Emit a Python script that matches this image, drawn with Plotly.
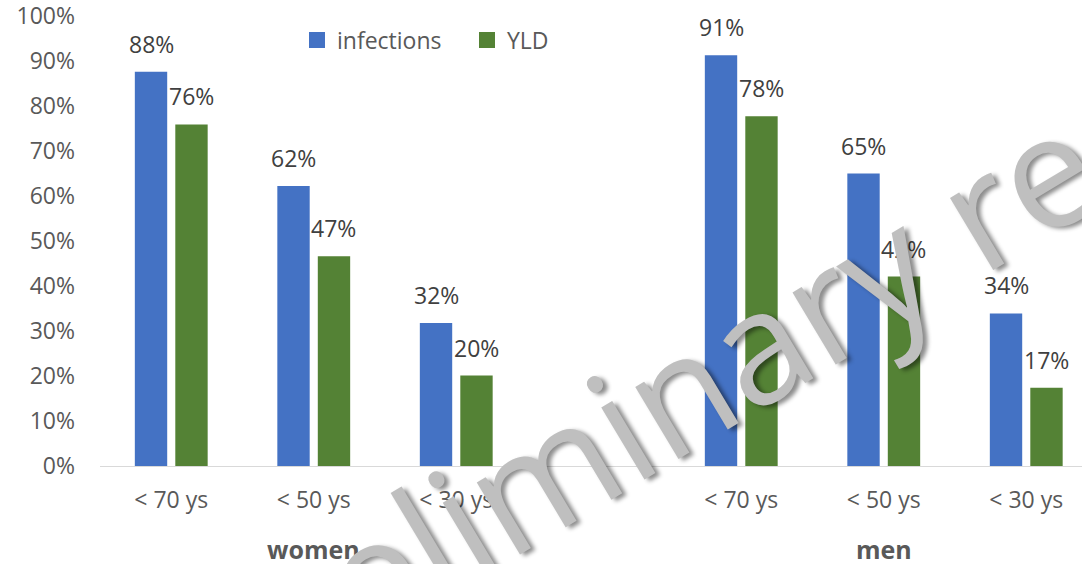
import plotly.graph_objects as go

# ---------------- data ----------------
groups = ["women", "men"]
age_labels = ["< 70 ys", "< 50 ys", "< 30 ys"]
series_names = ["infections", "YLD"]
infections_women = [87.6, 62.2, 31.8]
yld_women = [75.9, 46.6, 20.1]
infections_men = [91.3, 65.0, 33.9]
yld_men = [77.7, 42.1, 17.4]
y_tick_values = [0, 10, 20, 30, 40, 50, 60, 70, 80, 90, 100]
watermark_text = "preliminary results"

# ---------------- style ----------------
colors = {"infections": "#4472C4", "YLD": "#548235"}
FONT = "Open Sans"
AXIS_GRAY = "#595959"
LABEL_GRAY = "#404040"
BARGAP = 0.432
BARGROUPGAP = 0.2

values = {
    "infections": infections_women + infections_men,
    "YLD": yld_women + yld_men,
}
# category slots: women 0..2, empty spacer slot, men 4..6
n_age = len(age_labels)
x_pos = [g * (n_age + 1) + i for g in range(len(groups)) for i in range(n_age)]
tick_text = age_labels * len(groups)

fig = go.Figure()
for name in series_names:
    fig.add_trace(go.Bar(
        x=x_pos, y=values[name], name=name, showlegend=False,
        marker=dict(color=colors[name], line=dict(width=0)),
        hoverinfo="skip",
    ))
    # legend proxy with larger square symbol
    fig.add_trace(go.Scatter(
        x=[None], y=[None], mode="markers", name=name,
        marker=dict(symbol="square", size=16, color=colors[name]),
    ))

# data labels above each bar
n_series = len(series_names)
slot = (1 - BARGAP) / n_series
annotations = []
for k, name in enumerate(series_names):
    off = -(1 - BARGAP) / 2 + slot * (k + 0.5)
    for xp, v in zip(x_pos, values[name]):
        annotations.append(dict(
            x=xp + off, y=v, xref="x", yref="y", text=f"{round(v)}%",
            showarrow=False, yanchor="bottom", yshift=10,
            font=dict(family=FONT, size=23, color=LABEL_GRAY),
        ))

# group labels
for g, gname in enumerate(groups):
    gx = x_pos[g * n_age: (g + 1) * n_age]
    annotations.append(dict(
        x=sum(gx) / len(gx), y=0, xref="x", yref="paper", text=f"<b>{gname}</b>",
        showarrow=False, yanchor="middle", yshift=-83,
        font=dict(family=FONT, size=25, color=AXIS_GRAY),
    ))

# watermark
annotations.append(dict(
    x=0.6976, y=0.3156, xref="paper", yref="paper", text=watermark_text,
    showarrow=False, xanchor="center", yanchor="middle", textangle=-31,
    font=dict(family=FONT, size=157, color="#BFBFBF",
              shadow="3px 4px 4px rgba(0,0,0,0.45)"),
))

L, R, T, B = 100, 0, 16, 98
plot_w = 1082 - L - R
slot_px = 142.5

fig.update_layout(
    template="none",
    width=1082, height=564,
    margin=dict(l=L, r=R, t=T, b=B),
    paper_bgcolor="white", plot_bgcolor="white",
    barmode="group", bargap=BARGAP, bargroupgap=BARGROUPGAP,
    font=dict(family=FONT, size=23, color=AXIS_GRAY),
    legend=dict(
        orientation="h", x=(297 - L) / plot_w, xanchor="left",
        y=(466 - 40) / (564 - T - B), yanchor="middle",
        font=dict(family=FONT, size=23, color=AXIS_GRAY),
        itemsizing="trace", entrywidth=125, bgcolor="rgba(0,0,0,0)",
    ),
    xaxis=dict(
        range=[-0.5, -0.5 + plot_w / slot_px],
        tickvals=x_pos, ticktext=tick_text, ticks="",
        showline=True, linecolor="#D9D9D9", linewidth=1,
        showgrid=False, zeroline=False, ticklabelstandoff=13,
        tickfont=dict(family=FONT, size=23, color=AXIS_GRAY),
    ),
    yaxis=dict(
        range=[0, 100], tickvals=y_tick_values,
        ticktext=[f"{v}%" for v in y_tick_values], ticks="",
        showgrid=False, zeroline=False, showline=False, ticklabelstandoff=24,
        ticklabeloverflow="allow",
        tickfont=dict(family=FONT, size=23, color=AXIS_GRAY),
    ),
    annotations=annotations,
)

fig.write_html(
    "out.html",
    config={"displayModeBar": False},
    post_script="document.body.style.margin='0px';document.body.style.overflow='hidden';",
)
